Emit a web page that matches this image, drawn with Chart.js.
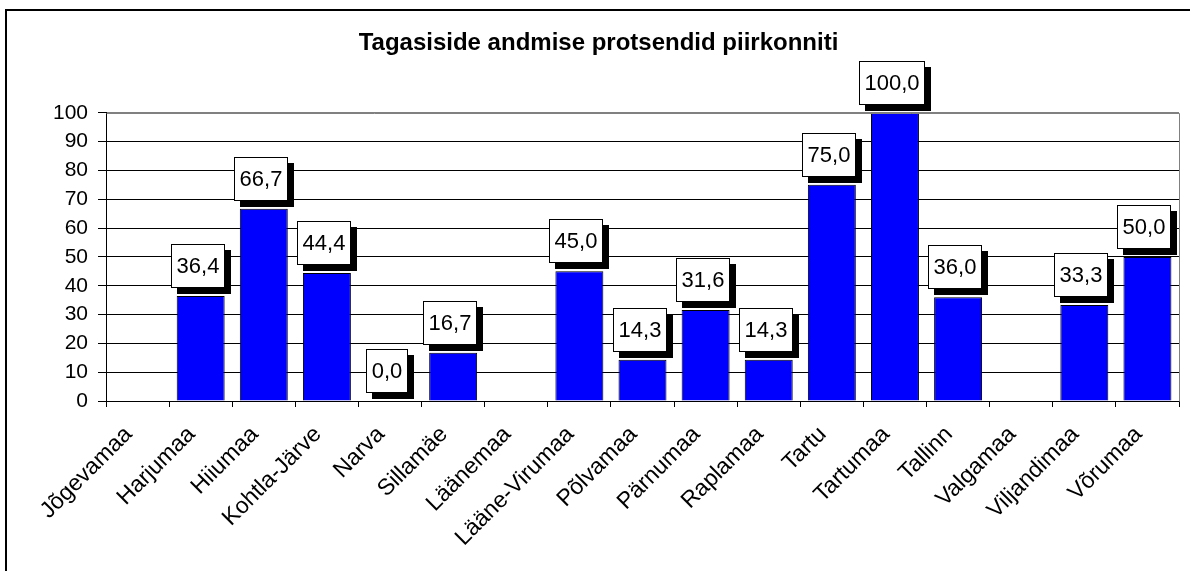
<!DOCTYPE html>
<html>
<head>
<meta charset="utf-8">
<script src="https://cdn.jsdelivr.net/npm/chart.js@4/dist/chart.umd.min.js"></script>
<style>
  html, body { margin: 0; padding: 0; background: #fff; }
  #wrap { width: 1190px; height: 571px; position: relative; }
</style>
</head>
<body>
<div id="wrap"><canvas id="c" width="1190" height="571"></canvas></div>
<script>
const categories = ["Jõgevamaa", "Harjumaa", "Hiiumaa", "Kohtla-Järve", "Narva", "Sillamäe", "Läänemaa", "Lääne-Virumaa", "Põlvamaa", "Pärnumaa", "Raplamaa", "Tartu", "Tartumaa", "Tallinn", "Valgamaa", "Viljandimaa", "Võrumaa"];
const percentValues = [null, 36.4, 66.7, 44.4, 0.0, 16.7, null, 45.0, 14.3, 31.6, 14.3, 75.0, 100.0, 36.0, null, 33.3, 50.0];
const yTicks = [0, 10, 20, 30, 40, 50, 60, 70, 80, 90, 100];
const chartTitle = "Tagasiside andmise protsendid piirkonniti";

const FONT = "'Liberation Sans', Arial, sans-serif";

const frame = {
  id: 'frame',
  beforeDraw(chart) {
    const ctx = chart.ctx;
    ctx.save();
    ctx.fillStyle = '#fff';
    ctx.fillRect(0, 0, chart.width, chart.height);
    ctx.strokeStyle = '#000';
    ctx.lineWidth = 2;
    ctx.beginPath();
    ctx.moveTo(6, chart.height + 2);
    ctx.lineTo(6, 10);
    ctx.lineTo(chart.width + 2, 10);
    ctx.stroke();
    ctx.restore();
  },
  afterDraw(chart) {
    const ctx = chart.ctx, a = chart.chartArea;
    ctx.save();
    ctx.strokeStyle = '#808080';
    ctx.lineWidth = 1;
    ctx.beginPath();
    ctx.moveTo(Math.round(a.left) + 0.5, Math.round(a.top) + 0.5);
    ctx.lineTo(Math.round(a.right) + 0.5, Math.round(a.top) + 0.5);
    ctx.lineTo(Math.round(a.right) + 0.5, Math.round(a.bottom) + 0.5);
    ctx.stroke();
    ctx.restore();
  }
};

const boxLabels = {
  id: 'boxLabels',
  afterDatasetsDraw(chart) {
    const ctx = chart.ctx;
    const meta = chart.getDatasetMeta(0);
    const data = chart.data.datasets[0].data;
    ctx.save();
    ctx.font = "22px " + FONT;
    ctx.textAlign = 'center';
    ctx.textBaseline = 'middle';
    meta.data.forEach((bar, i) => {
      const v = data[i];
      if (v === null || v === undefined) return;
      const txt = v.toFixed(1).replace('.', ',');
      const tw = ctx.measureText(txt).width;
      const w = Math.round(tw + 11), h = 44;
      const cx = bar.x - 3;
      const x = Math.round(cx - w / 2), y = Math.round(bar.y - 8 - h);
      ctx.fillStyle = '#000';
      ctx.fillRect(x + 6, y + 6, w, h);
      ctx.fillStyle = '#fff';
      ctx.fillRect(x, y, w, h);
      ctx.strokeStyle = '#000';
      ctx.lineWidth = 1;
      ctx.strokeRect(x + 0.5, y + 0.5, w - 1, h - 1);
      ctx.fillStyle = '#000';
      ctx.fillText(txt, x + w / 2, y + h / 2 + 1);
    });
    ctx.restore();
  }
};

new Chart(document.getElementById('c'), {
  type: 'bar',
  data: {
    labels: categories,
    datasets: [{
      data: percentValues,
      backgroundColor: '#0000FF',
      borderColor: '#000000',
      borderWidth: 1,
      borderSkipped: 'bottom',
      categoryPercentage: 0.76,
      barPercentage: 1.0
    }]
  },
  options: {
    responsive: false,
    animation: false,
    devicePixelRatio: 1,
    layout: { padding: { left: 18, right: 11, top: 0, bottom: 0 } },
    plugins: {
      legend: { display: false },
      tooltip: { enabled: false },
      title: {
        display: true,
        text: chartTitle,
        color: '#000',
        font: { family: FONT, size: 24, weight: 'bold', lineHeight: 1.2 },
        padding: { top: 29, bottom: 55 }
      }
    },
    scales: {
      x: {
        grid: { display: true, drawOnChartArea: false, drawTicks: true, tickLength: 6, color: '#000', offset: true },
        border: { display: true, color: '#000', width: 1 },
        ticks: {
          color: '#000',
          font: { family: FONT, size: 23 },
          minRotation: 45, maxRotation: 45,
          autoSkip: false,
          padding: 14,
          labelOffset: -9
        },
        afterFit(scale) { scale.height = 170; }
      },
      y: {
        min: 0, max: 100,
        afterBuildTicks(scale) { scale.ticks = yTicks.map(v => ({ value: v })); },
        grid: {
          color: (c) => (c.tick && c.tick.value === 100) ? '#808080' : '#000',
          tickColor: '#000',
          tickLength: 8,
          lineWidth: 1
        },
        border: { display: true, color: '#000', width: 1 },
        ticks: {
          color: '#000',
          font: { family: FONT, size: 21 },
          padding: 10,
          stepSize: 10
        },
        afterFit(scale) { scale.width = 88; }
      }
    }
  },
  plugins: [frame, boxLabels]
});
</script>
</body>
</html>
